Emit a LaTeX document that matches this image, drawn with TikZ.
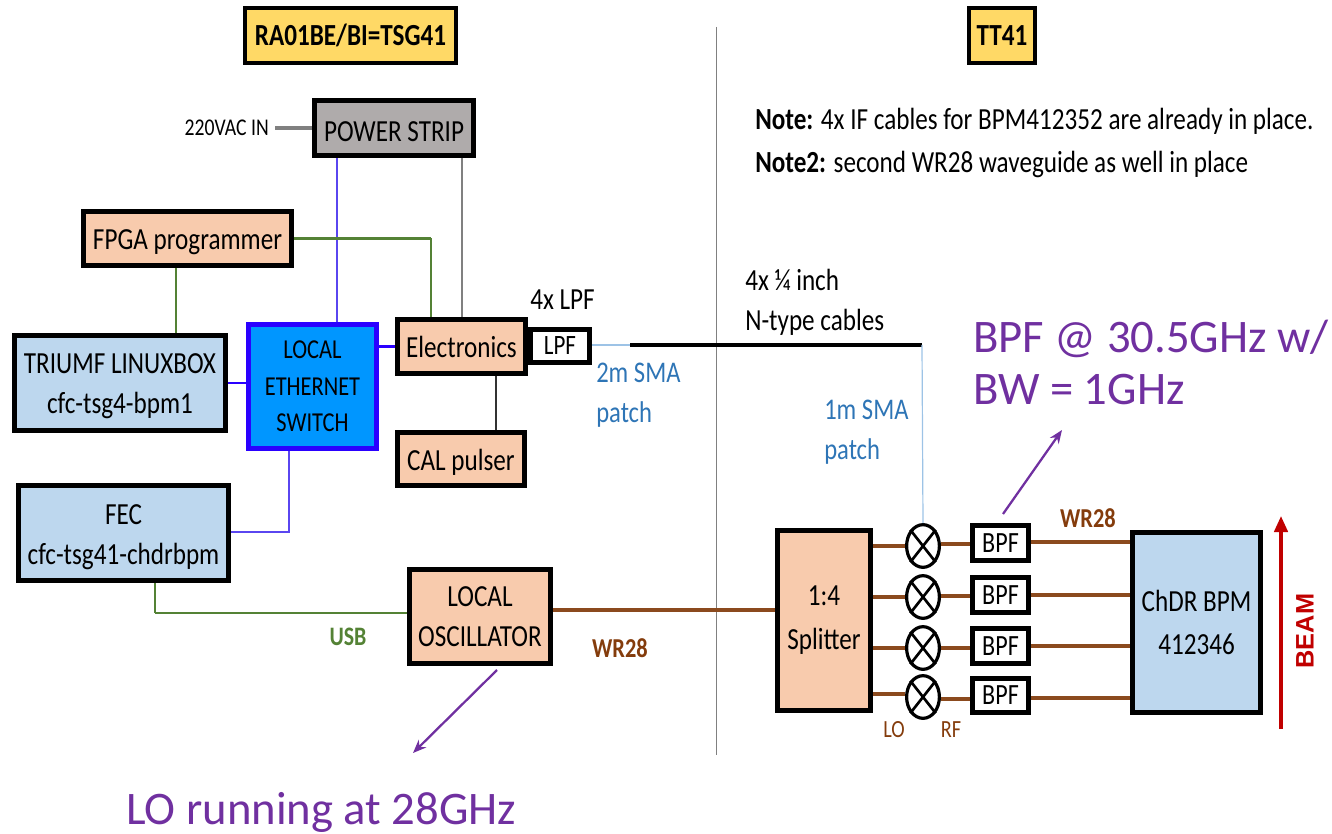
\documentclass[tikz,border=0pt]{standalone}
\usepackage{fontspec}
\setmainfont[FakeStretch=0.82]{Carlito}
\newfontfamily\widefont{Carlito}
\newfontfamily\beamfont{Liberation Sans}
\usetikzlibrary{arrows.meta,calc,shapes.geometric}
\definecolor{peach}{HTML}{F8CBAD}
\definecolor{ltblue}{HTML}{BDD7EE}
\definecolor{swblue}{HTML}{0096FF}
\definecolor{swedge}{HTML}{2A00FF}
\definecolor{linkblue}{HTML}{5A46F0}
\definecolor{gold}{HTML}{FFD966}
\definecolor{strip}{HTML}{AFABAB}
\definecolor{grn}{HTML}{548235}
\definecolor{brn}{HTML}{843C0C}
\definecolor{wire}{HTML}{8B4A1E}
\definecolor{sky}{HTML}{9DC3E6}
\definecolor{steel}{HTML}{2E75B6}
\definecolor{purp}{HTML}{7030A0}
\definecolor{beam}{HTML}{C00000}
\tikzset{
  boxbase/.style={draw=black,line width=3.4pt,align=center,inner sep=0pt,text=black,font=\fontsize{23}{30}\selectfont},
  peachbox/.style={boxbase,fill=peach},
  bluebox/.style={boxbase,fill=ltblue},
  titlebox/.style={boxbase,fill=gold,font=\fontsize{23}{26}\selectfont\bfseries,line width=2.8pt},
  filter/.style={boxbase,fill=white,font=\fontsize{22}{24}\selectfont},
  mixer/.style={draw=black,line width=2.4pt,fill=white,ellipse,inner sep=0pt,minimum width=24.6pt,minimum height=32pt},
  lab/.style={inner sep=0pt,align=left,font=\fontsize{23}{30}\selectfont},
  patchlab/.style={lab,text=steel,font=\fontsize{22.5}{30}\selectfont},
  big/.style={inner sep=0pt,align=left,text=purp,font=\widefont\fontsize{35}{38.5}\selectfont},
  power/.style={draw=gray,line width=1.6pt},
  powerin/.style={draw=gray,line width=2.4pt},
  eth/.style={draw=linkblue,line width=0.9pt},
  ethb/.style={draw=swedge,line width=1.8pt},
  usb/.style={draw=grn,line width=2.2pt},
  usbv/.style={draw=grn,line width=1.6pt},
  rf/.style={draw=wire,line width=2.3pt},
  sma/.style={draw=sky,line width=0.9pt},
  note/.style={draw=purp,line width=1.7pt,-{Stealth[length=10pt,width=8pt]}},
}
% lowers the text of a box by half of the extra height given
\newcommand{\dn}[1]{\rule{0pt}{\dimexpr0.75em+#1\relax}}
% #1 name, #2 x1, #3 y1, #4 x2, #5 y2, #6 style, #7 text
\newcommand{\bx}[7]{%
  \node[#6,anchor=center,minimum width={(#4-#2)*0.75pt-3.4pt},minimum height={(#5-#3)*0.75pt-3.4pt}]
    (#1) at ({(#2+#4)/2},{(#3+#5)/2}) {#7};}
\begin{document}
\begin{tikzpicture}[x=0.75pt,y=-0.75pt]
\useasboundingbox (0,0) rectangle (1332,834);
% titles
\bx{title1}{243}{6}{458}{65}{titlebox}{RA01BE/BI=TSG41}
\bx{title2}{967}{6}{1037}{65}{titlebox}{TT41}
% divider
\coordinate (divtop) at (716,27);
\coordinate (divbot) at (716,755);
\draw[draw=gray,line width=0.7pt] (divtop) -- (divbot);
% boxes
\bx{strip}{312}{98}{476}{158}{boxbase,fill=strip}{\dn{3pt}POWER STRIP}
\bx{fpga}{81}{209}{294}{268}{peachbox}{\dn{3pt}FPGA programmer}
\bx{linux}{12}{333}{228}{433}{bluebox}{\dn{3pt}TRIUMF LINUXBOX\\cfc-tsg4-bpm1}
\bx{switch}{246}{322}{379}{451}{boxbase,fill=swblue,draw=swedge,line width=3.8pt,font=\fontsize{20.5}{27.5}\selectfont}{LOCAL\\ETHERNET\\SWITCH}
\bx{elec}{395}{317}{528}{376}{peachbox}{Electronics}
\bx{lpf}{528}{327}{592}{365}{filter,font=\fontsize{21}{24}\selectfont}{LPF}
\bx{cal}{395}{430}{527}{488}{peachbox}{\dn{3pt}CAL pulser}
\bx{fec}{16}{483}{231}{583}{bluebox}{\dn{4pt}FEC\\cfc-tsg41-chdrbpm}
\bx{lo}{407}{567}{553}{666}{peachbox}{LOCAL\\OSCILLATOR}
\bx{split}{775}{528}{873}{713}{peachbox,font=\fontsize{23}{33}\selectfont}{1:4\\Splitter}
\bx{chdr}{1130}{530}{1263}{715}{bluebox,font=\fontsize{23}{32}\selectfont}{ChDR BPM\\412346}
\bx{bpfa}{970}{523}{1031}{563}{filter}{BPF}
\bx{bpfb}{970}{575}{1031}{615}{filter}{BPF}
\bx{bpfc}{970}{626}{1031}{666}{filter}{BPF}
\bx{bpfd}{970}{676}{1031}{715}{filter}{BPF}
% mixers
\foreach \n/\yy in {a/546,b/597,c/648,d/697}{
  \node[mixer] (mix\n) at (923,\yy) {};
  \draw[line width=2pt] (mix\n.north west) -- (mix\n.south east);
  \draw[line width=2pt] (mix\n.north east) -- (mix\n.south west);
}
% plain labels
\node[lab,anchor=east,font=\fontsize{18}{24}\selectfont] (vac) at (269,128) {220VAC IN};
\node[lab,anchor=west] (lpflab) at (530,300) {4x LPF};
\node[patchlab,anchor=north west] (patcha) at (596,363) {2m SMA\\patch};
\node[patchlab,anchor=north west] (patchb) at (824,400) {1m SMA\\patch};
\node[lab,anchor=north west] (ntype) at (745,269) {4x ¼ inch\\N-type cables};
\node[lab,anchor=north west,font=\fontsize{23}{32}\selectfont] (notes) at (755,108) {\textbf{Note:} 4x IF cables for BPM412352 are already in place.\\\textbf{Note2:} second WR28 waveguide as well in place};
\node[big,anchor=north west] (bpfnote) at (973,320) {BPF @ 30.5GHz w/\\BW = 1GHz};
\node[big,anchor=west] (lonote) at (126,812) {LO running at 28GHz};
\node[lab,text=grn,font=\fontsize{20}{24}\selectfont\bfseries] (usblab) at (348,637) {USB};
\node[lab,text=brn,font=\fontsize{20.5}{24}\selectfont\bfseries] (wra) at (620,648) {WR28};
\node[lab,text=brn,font=\fontsize{20.5}{24}\selectfont\bfseries] (wrb) at (1088,518) {WR28};
\node[lab,text=brn,font=\fontsize{18.5}{24}\selectfont] (lolab) at (894,730) {LO};
\node[lab,text=brn,font=\fontsize{18.5}{24}\selectfont] (rflab) at (951,730) {RF};
\node[lab,text=beam,rotate=90,font=\beamfont\fontsize{19}{22}\selectfont\bfseries] (beamlab) at (1305,631) {BEAM};
% power
\draw[powerin] (vac.east)++(6,0) -- (strip.west |- vac.east);
\draw[power] (462,0 |- strip.south) -- (462,0 |- elec.north);
% ethernet
\draw[eth] (337,0 |- strip.south) -- (337,0 |- switch.north);
\draw[ethb] (linux.east) -- (switch.west |- linux.east);
\draw[ethb] (switch.east |- elec.west) -- (elec.west);
\draw[eth,line width=1.2pt] (289,0 |- switch.south) |- (fec.east |- 0,532);
% green
\draw[usb] (fpga.east) -- (431,0 |- fpga.east);
\draw[usbv] (431,0 |- fpga.east) -- (431,0 |- elec.north);
\draw[usbv] (176,0 |- fpga.south) -- (176,0 |- linux.north);
\draw[usbv] (155,0 |- fec.south) -- (155,613);
\draw[usb] (155,613) -- (lo.west |- 0,613);
% misc
\draw[draw=black!80,line width=0.9pt] (496,0 |- elec.south) -- (496,0 |- cal.north);
% RF
\draw[rf] (lo.east |- 0,610) -- (split.west |- 0,610);
\draw[rf] (split.east |- 0,546) -- (mixa.west |- 0,546);
\draw[rf] (split.east |- 0,597) -- (mixb.west |- 0,597);
\draw[rf] (split.east |- 0,648) -- (mixc.west |- 0,648);
\draw[rf] (split.east |- 0,694) -- (mixd.west |- 0,694);
\draw[rf] (mixa.east |- 0,544) -- (bpfa.west |- 0,544);
\draw[rf] (mixb.east |- 0,596) -- (bpfb.west |- 0,596);
\draw[rf] (mixc.east |- 0,648) -- (bpfc.west |- 0,648);
\draw[rf] (mixd.east |- 0,699) -- (bpfd.west |- 0,699);
\draw[rf] (bpfa.east |- 0,542) -- (chdr.west |- 0,542);
\draw[rf] (bpfb.east |- 0,595) -- (chdr.west |- 0,595);
\draw[rf] (bpfc.east |- 0,646) -- (chdr.west |- 0,646);
\draw[rf] (bpfd.east |- 0,698) -- (chdr.west |- 0,698);
% cables
\coordinate (cablea) at (630,345);
\coordinate (cableb) at (922,345);
\draw[sma] (lpf.east |- cablea) -- (cablea);
\draw[draw=black,line width=2.5pt] (cablea) -- (cableb);
\draw[sma] (cableb) -- (mixa.north);
% notes
\coordinate (loarrowstart) at (497,670);
\coordinate (loarrowend) at (413,753);
\coordinate (bpfarrowstart) at (1003,514);
\coordinate (bpfarrowend) at (1062,430);
\draw[note] (loarrowstart) -- (loarrowend);
\draw[note] (bpfarrowstart) -- (bpfarrowend);
% beam
\coordinate (beamstart) at (1281,729);
\coordinate (beamend) at (1281,516);
\draw[draw=beam,line width=2.6pt,-{Triangle[length=12pt,width=10pt]}] (beamstart) -- (beamend);
\end{tikzpicture}
\end{document}
